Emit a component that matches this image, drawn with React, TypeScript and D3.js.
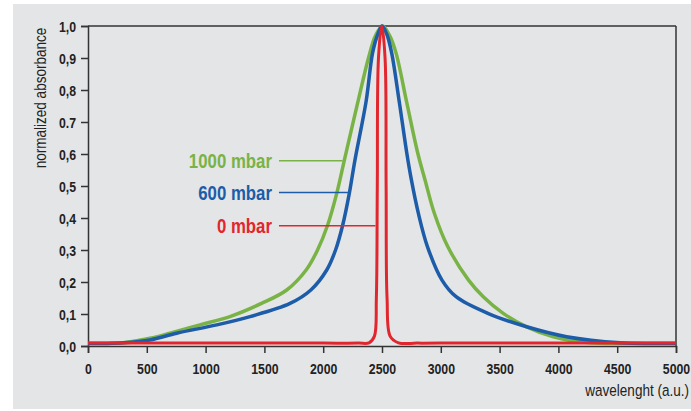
import { useEffect, useRef } from 'react';
import * as d3 from 'd3';

// wavelength samples (a.u.) and normalized absorbance
const greenWave = [0, 150, 300, 527, 697, 952, 1207, 1475, 1690, 1855, 1952, 2038, 2115, 2180, 2299, 2385, 2445, 2505, 2565, 2619, 2711, 2806, 2866, 2945, 3060, 3236, 3361, 3531, 3730, 3957, 4269, 4600, 5000];
const greenAbs = [0.008, 0.008, 0.01, 0.024, 0.04, 0.066, 0.092, 0.133, 0.175, 0.2375, 0.3, 0.378, 0.477, 0.581, 0.769, 0.9, 0.97, 1.0, 0.97, 0.916, 0.76, 0.6, 0.519, 0.415, 0.31, 0.206, 0.154, 0.102, 0.06, 0.029, 0.01, 0.008, 0.008];

const blueWave = [0, 150, 300, 527, 754, 1094, 1378, 1718, 1895, 2030, 2105, 2166, 2222, 2270, 2365, 2420, 2465, 2500, 2540, 2582, 2648, 2712, 2750, 2809, 2887, 3010, 3130, 3400, 3730, 4070, 4524, 4800, 5000];
const blueAbs = [0.008, 0.008, 0.01, 0.019, 0.04, 0.066, 0.092, 0.133, 0.175, 0.2375, 0.3, 0.378, 0.477, 0.581, 0.765, 0.916, 0.975, 1.0, 0.975, 0.916, 0.76, 0.6, 0.519, 0.415, 0.31, 0.206, 0.154, 0.102, 0.06, 0.029, 0.01, 0.008, 0.008];

const redWave = [0, 500, 1000, 1500, 2000, 2300, 2390, 2435, 2452, 2460, 2470, 2498, 2526, 2535, 2543, 2570, 2640, 2800, 3000, 3500, 4000, 4500, 5000];
const redAbs = [0.009, 0.009, 0.009, 0.009, 0.009, 0.009, 0.01, 0.03, 0.15, 0.5, 0.9, 1.0, 0.9, 0.5, 0.15, 0.03, 0.01, 0.009, 0.009, 0.009, 0.009, 0.009, 0.009];

const seriesNames = ['1000 mbar', '600 mbar', '0 mbar'];
const labelLevels = [0.579, 0.48, 0.376];
const labelStartWave = 1624;

const xTicks = [0, 500, 1000, 1500, 2000, 2500, 3000, 3500, 4000, 4500, 5000];
const yTicks = [0, 0.1, 0.2, 0.3, 0.4, 0.5, 0.6, 0.7, 0.8, 0.9, 1.0];
const yTickLabels = ['0,0', '0,1', '0,2', '0,3', '0,4', '0,5', '0,6', '0.7', '0,8', '0,9', '1,0'];

const FONT = "'Liberation Sans', Arial, sans-serif";
const SQUEEZE = 0.82; // no narrow face installed, so condense horizontally

export default function App() {
  const ref = useRef<SVGSVGElement>(null);

  useEffect(() => {
    if (!ref.current) return;
    const svg = d3.select(ref.current);
    svg.selectAll('*').remove();

    const width = 691;
    const height = 411;
    const margin = { top: 26, right: 15, bottom: 65, left: 88 };
    const innerWidth = width - margin.left - margin.right;
    const innerHeight = height - margin.top - margin.bottom;

    svg.append('rect')
      .attr('x', 13).attr('y', 4)
      .attr('width', width - 13).attr('height', 405)
      .attr('fill', '#e4e5e7');

    const g = svg.append('g').attr('transform', `translate(${margin.left},${margin.top})`);

    const x = d3.scaleLinear().domain([0, 5000]).range([0, innerWidth]);
    const y = d3.scaleLinear().domain([0, 1]).range([innerHeight, 0]);

    const axisColor = '#333';

    // frame: top and right
    g.append('line').attr('x1', 0).attr('x2', innerWidth).attr('y1', 0).attr('y2', 0)
      .attr('stroke', axisColor).attr('stroke-width', 1.5);
    g.append('line').attr('x1', innerWidth).attr('x2', innerWidth).attr('y1', 0).attr('y2', innerHeight)
      .attr('stroke', axisColor).attr('stroke-width', 1.5);

    const squeezeTicks = (sel: any) => {
      sel.each(function (this: SVGTextElement) {
        const tx = +(this.getAttribute('x') || 0);
        d3.select(this)
          .attr('x', 0)
          .attr('transform', `translate(${tx},0) scale(${SQUEEZE},1)`);
      });
    };

    // y axis
    const yAxis = g.append('g')
      .call(d3.axisLeft(y).tickValues(yTicks).tickSize(7).tickPadding(5)
        .tickFormat((_, i) => yTickLabels[i]));
    yAxis.select('.domain').attr('stroke', axisColor).attr('stroke-width', 1.5);
    yAxis.selectAll('.tick line').attr('stroke', axisColor).attr('stroke-width', 1.5);
    yAxis.selectAll('.tick text')
      .attr('font-family', FONT).attr('font-weight', 'bold').attr('font-size', 15)
      .attr('fill', '#222').attr('dy', '0.38em')
      .call(squeezeTicks);

    // x axis
    const xAxis = g.append('g')
      .attr('transform', `translate(0,${innerHeight})`)
      .call(d3.axisBottom(x).tickValues(xTicks).tickSize(7).tickPadding(10)
        .tickFormat((d) => String(d)));
    xAxis.select('.domain').attr('stroke', axisColor).attr('stroke-width', 1.5);
    xAxis.selectAll('.tick line').attr('stroke', axisColor).attr('stroke-width', 1.5);
    xAxis.selectAll('.tick text')
      .attr('font-family', FONT).attr('font-weight', 'bold').attr('font-size', 15)
      .attr('fill', '#222')
      .call(squeezeTicks);

    // axis titles
    g.append('text')
      .attr('transform', `translate(${40 - margin.left},${98 - margin.top}) rotate(-90) scale(${SQUEEZE},1)`)
      .attr('text-anchor', 'middle').attr('dy', '0.35em')
      .attr('font-family', FONT).attr('font-size', 16.5).attr('fill', '#222')
      .text('normalized absorbance');

    g.append('text')
      .attr('transform', `translate(${689 - margin.left},${390 - margin.top}) scale(${SQUEEZE},1)`)
      .attr('text-anchor', 'end').attr('dy', '0.35em')
      .attr('font-family', FONT).attr('font-size', 16.5).attr('fill', '#222')
      .text('wavelenght (a.u.)');

    const colors = ['#79b345', '#1c5ca8', '#e1262d'];
    const widths = [3.5, 3.5, 3];
    const series = [
      { wave: greenWave, abs: greenAbs },
      { wave: blueWave, abs: blueAbs },
      { wave: redWave, abs: redAbs },
    ];

    const line = d3.line<[number, number]>()
      .x((d) => x(d[0]))
      .y((d) => y(d[1]))
      .curve(d3.curveCatmullRom.alpha(0.5));

    series.forEach((s, i) => {
      const pts = s.wave.map((w, j) => [w, s.abs[j]] as [number, number]);
      g.append('path')
        .datum(pts)
        .attr('d', line)
        .attr('fill', 'none')
        .attr('stroke', colors[i])
        .attr('stroke-width', widths[i])
        .attr('stroke-linejoin', 'round');
    });

    // labels with leader lines to the rising flank of each curve
    series.forEach((s, i) => {
      const level = labelLevels[i];
      const peak = s.abs.indexOf(d3.max(s.abs)!);
      let hit = s.wave[peak];
      for (let j = 1; j <= peak; j++) {
        if (s.abs[j] >= level) {
          const t = (level - s.abs[j - 1]) / (s.abs[j] - s.abs[j - 1]);
          hit = s.wave[j - 1] + t * (s.wave[j] - s.wave[j - 1]);
          break;
        }
      }
      const ly = y(level);
      g.append('line')
        .attr('x1', x(labelStartWave)).attr('x2', x(hit) - 1.5)
        .attr('y1', ly).attr('y2', ly)
        .attr('stroke', colors[i]).attr('stroke-width', 1.5);
      g.append('text')
        .attr('transform', `translate(${x(labelStartWave) - 7},${ly}) scale(${SQUEEZE},1)`)
        .attr('text-anchor', 'end').attr('dy', '0.35em')
        .attr('font-family', FONT).attr('font-weight', 'bold').attr('font-size', 20.5)
        .attr('fill', colors[i])
        .text(seriesNames[i]);
    });
  }, []);

  return (
    <svg
      ref={ref}
      width={691}
      height={411}
      style={{ position: 'absolute', left: 0, top: 0, display: 'block', background: '#fff' }}
    />
  );
}
